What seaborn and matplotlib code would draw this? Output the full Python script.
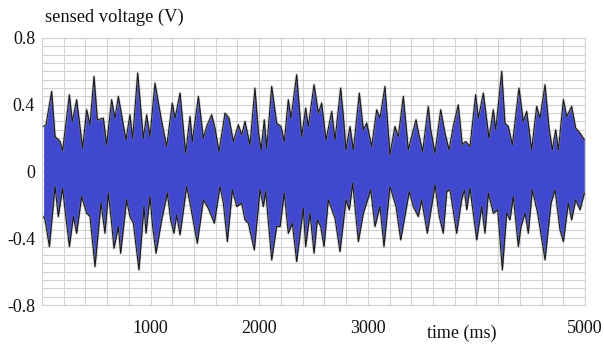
import numpy as np
import pandas as pd
import matplotlib
matplotlib.use("Agg")
import matplotlib.pyplot as plt
import matplotlib.ticker as mticker
import seaborn as sns

# ── envelope of the sensed voltage (ms, V) ──────────────────────────────────
upper_t = [15, 37, 89, 120, 166, 190, 252, 279, 319, 374, 411, 442, 479, 510,
           565, 595, 641, 672, 703, 773, 810, 835, 881, 933, 964, 994, 1040,
           1102, 1148, 1200, 1225, 1271, 1323, 1363, 1384, 1440, 1486, 1516,
           1562, 1593, 1630, 1685, 1722, 1762, 1808, 1839, 1869, 1915, 1961,
           1992, 2017, 2047, 2069, 2115, 2161, 2201, 2231, 2268, 2293, 2345,
           2391, 2428, 2452, 2480, 2505, 2545, 2575, 2615, 2668, 2698, 2750,
           2775, 2799, 2836, 2867, 2922, 2959, 2990, 3036, 3082, 3112, 3158,
           3204, 3250, 3281, 3327, 3373, 3404, 3444, 3474, 3505, 3557, 3579,
           3619, 3671, 3711, 3748, 3787, 3833, 3870, 3901, 3941, 3993, 4018,
           4064, 4116, 4156, 4178, 4233, 4263, 4294, 4331, 4392, 4432, 4463,
           4509, 4555, 4586, 4632, 4669, 4699, 4730, 4755, 4801, 4832, 4877,
           4914, 4954, 4994]
upper_v = [0.27, 0.28, 0.48, 0.21, 0.18, 0.125, 0.46, 0.30, 0.43, 0.14, 0.37,
           0.28, 0.57, 0.31, 0.32, 0.16, 0.43, 0.32, 0.45, 0.19, 0.34, 0.20,
           0.59, 0.20, 0.34, 0.21, 0.53, 0.30, 0.15, 0.41, 0.32, 0.47, 0.11,
           0.33, 0.18, 0.45, 0.20, 0.27, 0.34, 0.26, 0.12, 0.35, 0.32, 0.18,
           0.28, 0.22, 0.30, 0.16, 0.50, 0.24, 0.13, 0.31, 0.14, 0.51, 0.29,
           0.27, 0.18, 0.43, 0.32, 0.58, 0.21, 0.38, 0.27, 0.40, 0.52, 0.35,
           0.41, 0.19, 0.36, 0.19, 0.50, 0.33, 0.13, 0.27, 0.13, 0.47, 0.25,
           0.29, 0.15, 0.37, 0.32, 0.51, 0.10, 0.27, 0.21, 0.45, 0.13, 0.21,
           0.31, 0.21, 0.12, 0.39, 0.25, 0.11, 0.37, 0.23, 0.13, 0.27, 0.40,
           0.16, 0.18, 0.15, 0.46, 0.32, 0.47, 0.20, 0.37, 0.25, 0.60, 0.29,
           0.27, 0.16, 0.50, 0.30, 0.36, 0.13, 0.39, 0.32, 0.52, 0.26, 0.13,
           0.25, 0.13, 0.43, 0.33, 0.39, 0.26, 0.23, 0.19]

lower_t = [15, 28, 68, 120, 150, 190, 212, 252, 289, 319, 365, 411, 442, 488,
           543, 580, 611, 641, 663, 703, 724, 779, 810, 841, 893, 939, 958,
           994, 1019, 1050, 1102, 1154, 1185, 1215, 1240, 1271, 1332, 1363,
           1430, 1486, 1531, 1587, 1639, 1670, 1707, 1753, 1793, 1839, 1869,
           1900, 1955, 2007, 2038, 2060, 2115, 2161, 2192, 2231, 2268, 2305,
           2345, 2406, 2428, 2468, 2505, 2535, 2566, 2597, 2636, 2698, 2744,
           2799, 2830, 2861, 2913, 2959, 3027, 3066, 3112, 3149, 3204, 3260,
           3303, 3382, 3419, 3465, 3496, 3548, 3619, 3658, 3695, 3727, 3757,
           3818, 3864, 3889, 3911, 3941, 4003, 4049, 4079, 4110, 4156, 4196,
           4239, 4279, 4309, 4340, 4386, 4411, 4448, 4478, 4515, 4564, 4632,
           4687, 4724, 4770, 4801, 4846, 4877, 4914, 4954, 4994]
lower_v = [-0.27, -0.29, -0.45, -0.09, -0.27, -0.10, -0.23, -0.45, -0.27,
           -0.37, -0.15, -0.25, -0.27, -0.57, -0.19, -0.37, -0.13, -0.31,
           -0.46, -0.33, -0.49, -0.17, -0.27, -0.31, -0.59, -0.21, -0.37,
           -0.15, -0.33, -0.49, -0.29, -0.13, -0.29, -0.37, -0.26, -0.38,
           -0.09, -0.19, -0.43, -0.17, -0.22, -0.31, -0.09, -0.19, -0.42,
           -0.11, -0.21, -0.19, -0.29, -0.31, -0.47, -0.11, -0.21, -0.12,
           -0.53, -0.33, -0.33, -0.13, -0.37, -0.31, -0.54, -0.22, -0.45,
           -0.25, -0.49, -0.29, -0.33, -0.45, -0.17, -0.28, -0.48, -0.17,
           -0.23, -0.07, -0.42, -0.25, -0.11, -0.33, -0.21, -0.45, -0.09,
           -0.21, -0.41, -0.12, -0.21, -0.27, -0.17, -0.37, -0.08, -0.27,
           -0.37, -0.12, -0.11, -0.37, -0.17, -0.11, -0.23, -0.10, -0.41,
           -0.21, -0.37, -0.13, -0.25, -0.23, -0.59, -0.25, -0.29, -0.15,
           -0.45, -0.33, -0.25, -0.37, -0.11, -0.25, -0.53, -0.19, -0.11,
           -0.35, -0.42, -0.19, -0.29, -0.17, -0.23, -0.13]

x_ticks = [1000, 2000, 3000, 5000]
y_ticks = [-0.8, -0.4, 0, 0.4, 0.8]
y_labels = ["-0.8", "-0.4", "0", "0.4", "0.8"]

BLUE = "#4048D0"
GRID = "#D2D2D2"

sns.set_theme(style="white")
plt.rcParams["font.family"] = ["Liberation Serif", "DejaVu Serif"]

up = pd.DataFrame({"t": upper_t, "v": upper_v})
lo = pd.DataFrame({"t": lower_t, "v": lower_v})

fig = plt.figure(figsize=(6.04, 3.44), dpi=100)
ax = fig.add_axes([42 / 604, 1 - 305 / 344, 543 / 604, 267 / 344])

# blue body of the signal
ax.fill_between(up["t"], 0, up["v"], color=BLUE, lw=0, zorder=2)
ax.fill_between(lo["t"], lo["v"], 0, color=BLUE, lw=0, zorder=2)

# grey halo + dark edge of the envelope
for df in (up, lo):
    sns.lineplot(data=df, x="t", y="v", sort=False, color="#8A8A8A",
                 lw=2.0, alpha=0.35, ax=ax, zorder=3)
    sns.lineplot(data=df, x="t", y="v", sort=False, color="#1A1A1A",
                 lw=0.8, ax=ax, zorder=4)

ax.set_xlim(0, 5000)
ax.set_ylim(-0.8, 0.8)
ax.set_xticks(x_ticks)
ax.set_xticklabels([str(t) for t in x_ticks])
ax.set_yticks(y_ticks)
ax.set_yticklabels(y_labels)
ax.xaxis.set_minor_locator(mticker.MultipleLocator(200))
ax.yaxis.set_minor_locator(mticker.MultipleLocator(0.05))
ax.grid(True, which="both", color=GRID, lw=0.8, zorder=0)
ax.set_axisbelow(True)
ax.tick_params(axis="both", which="both", length=0, labelsize=13,
               colors="#111111")
ax.tick_params(axis="x", pad=11)
ax.tick_params(axis="y", pad=5)
for s in ax.spines.values():
    s.set_color(GRID)
    s.set_linewidth(0.8)
ax.set_xlabel("")
ax.set_ylabel("")

fig.text(45 / 604, 1 - 17 / 344, "sensed voltage (V)", ha="left",
         va="center", fontsize=13.3, color="#111111")
ax.text((462 - 42) / 543, -0.105, "time (ms)", transform=ax.transAxes,
        ha="center", va="center", fontsize=13, color="#111111")

fig.savefig("out.png", dpi=100)
